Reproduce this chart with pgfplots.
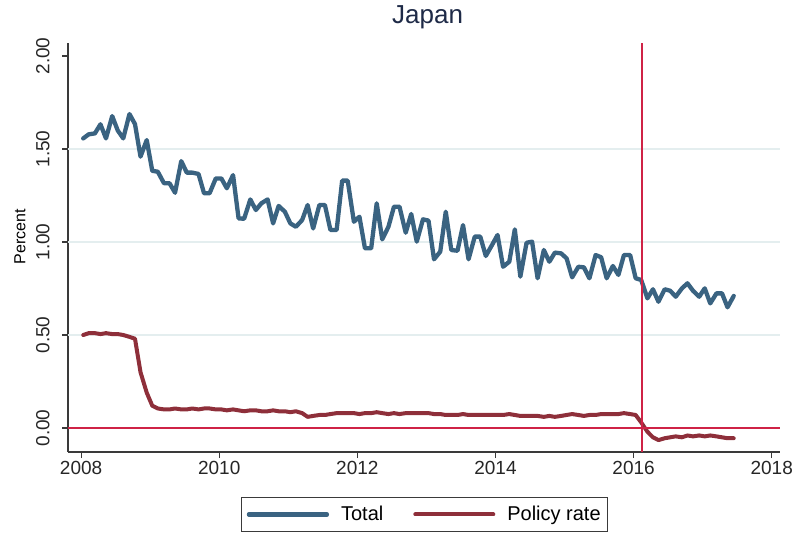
\documentclass[border=0pt]{standalone}
\usepackage{fontspec}
\setmainfont{Liberation Sans}
\usepackage{pgfplots}
\pgfplotsset{compat=1.18}
\usepackage{pgfplotstable}
\definecolor{totcol}{HTML}{3A6381}
\definecolor{polcol}{HTML}{8E2F3A}
\definecolor{refred}{HTML}{CF2346}
\definecolor{gridc}{HTML}{E4EEEF}
\definecolor{axcol}{HTML}{3A3A3A}
\definecolor{titlecol}{HTML}{1E2A47}

\pgfplotstableread{
x tot pol
2008.03 1.557 0.500
2008.11 1.579 0.510
2008.20 1.584 0.510
2008.28 1.633 0.505
2008.36 1.557 0.510
2008.45 1.677 0.505
2008.53 1.600 0.505
2008.61 1.557 0.500
2008.70 1.688 0.490
2008.78 1.634 0.480
2008.86 1.459 0.300
2008.95 1.548 0.190
2009.03 1.383 0.120
2009.11 1.378 0.105
2009.20 1.316 0.100
2009.28 1.316 0.100
2009.36 1.265 0.105
2009.45 1.435 0.100
2009.53 1.373 0.100
2009.61 1.373 0.105
2009.70 1.366 0.100
2009.78 1.262 0.105
2009.86 1.262 0.105
2009.95 1.342 0.100
2010.03 1.342 0.100
2010.11 1.289 0.095
2010.20 1.360 0.100
2010.28 1.127 0.095
2010.36 1.125 0.090
2010.45 1.229 0.095
2010.53 1.172 0.095
2010.61 1.208 0.090
2010.70 1.229 0.090
2010.78 1.100 0.095
2010.86 1.194 0.090
2010.95 1.163 0.090
2011.03 1.100 0.085
2011.11 1.082 0.090
2011.20 1.118 0.080
2011.28 1.199 0.060
2011.36 1.073 0.065
2011.45 1.199 0.070
2011.53 1.199 0.070
2011.61 1.065 0.075
2011.70 1.065 0.080
2011.78 1.330 0.080
2011.86 1.330 0.080
2011.95 1.109 0.080
2012.03 1.136 0.075
2012.11 0.966 0.080
2012.20 0.966 0.080
2012.28 1.208 0.085
2012.36 1.014 0.080
2012.45 1.082 0.075
2012.53 1.190 0.080
2012.61 1.190 0.075
2012.70 1.050 0.080
2012.78 1.151 0.080
2012.86 1.002 0.080
2012.95 1.122 0.080
2013.03 1.115 0.080
2013.11 0.907 0.075
2013.20 0.948 0.075
2013.28 1.163 0.070
2013.36 0.957 0.070
2013.45 0.953 0.070
2013.53 1.091 0.075
2013.61 0.907 0.070
2013.70 1.029 0.070
2013.78 1.029 0.070
2013.86 0.925 0.070
2013.95 0.984 0.070
2014.03 1.038 0.070
2014.11 0.867 0.070
2014.20 0.894 0.075
2014.28 1.068 0.070
2014.36 0.814 0.065
2014.45 0.996 0.065
2014.53 1.002 0.065
2014.61 0.805 0.065
2014.70 0.957 0.060
2014.78 0.894 0.065
2014.86 0.943 0.060
2014.95 0.939 0.065
2015.03 0.912 0.070
2015.11 0.810 0.075
2015.20 0.867 0.070
2015.28 0.864 0.065
2015.36 0.805 0.070
2015.45 0.930 0.070
2015.53 0.918 0.075
2015.61 0.805 0.075
2015.70 0.871 0.075
2015.78 0.823 0.075
2015.86 0.930 0.080
2015.95 0.930 0.075
2016.03 0.805 0.070
2016.11 0.796 0.030
2016.20 0.697 -0.020
2016.28 0.746 -0.050
2016.36 0.679 -0.065
2016.45 0.746 -0.055
2016.53 0.738 -0.050
2016.61 0.706 -0.045
2016.70 0.751 -0.050
2016.78 0.778 -0.040
2016.86 0.738 -0.045
2016.95 0.706 -0.040
2017.03 0.751 -0.045
2017.11 0.670 -0.040
2017.20 0.724 -0.045
2017.28 0.724 -0.050
2017.36 0.649 -0.055
2017.45 0.710 -0.055
}\data

\begin{document}
\begin{tikzpicture}
\begin{axis}[
  scale only axis, width=712pt, height=409pt,
  xmin=2007.81, xmax=2018.12, ymin=-0.129, ymax=2.07,
  axis lines=left, axis line style={-, axcol, line width=1.2pt},
  tick align=outside, major tick length=6pt,
  tick style={axcol, line width=1.2pt},
  xtick={2008,2010,...,2018}, ytick={0,0.5,1,1.5,2},
  /pgf/number format/assume math mode=true,
  x tick label style={/pgf/number format/1000 sep={}, font=\fontsize{19}{22}\selectfont, text=black!85},
  yticklabel={\pgfmathprintnumber[fixed,fixed zerofill,precision=2]{\tick}},
  y tick label style={rotate=90, anchor=south, yshift=9pt, font=\fontsize{19}{22}\selectfont, text=black!85},
  title={Japan},
  title style={at={(0.505,1)}, anchor=south, inner sep=0pt, yshift=8pt, font=\fontsize{26}{30}\selectfont, text=titlecol},
  ylabel={Percent},
  ylabel style={at={(axis description cs:-0.0674,0.526)}, anchor=center, font=\fontsize{16}{19}\selectfont},
  legend style={at={(0.501,-0.11)}, anchor=north, draw=axcol, line width=1pt,
    font=\fontsize{20}{24}\selectfont, inner xsep=5pt, inner ysep=7pt,
    /tikz/every odd column/.append style={column sep=10pt},
    /tikz/every even column/.append style={column sep=28pt}},
  legend columns=2,
  legend image code/.code={\draw[#1] (0pt,0pt) -- (78pt,0pt);},
]
\addplot[gridc, line width=1.5pt, forget plot] coordinates {(2007.81,0.5) (2018.12,0.5)};
\addplot[gridc, line width=1.5pt, forget plot] coordinates {(2007.81,1.0) (2018.12,1.0)};
\addplot[gridc, line width=1.5pt, forget plot] coordinates {(2007.81,1.5) (2018.12,1.5)};
\addplot[totcol, line width=4.3pt, line join=round, line cap=round] table[x=x, y=tot] {\data};
\addlegendentry{Total}
\addplot[polcol, line width=4pt, line join=round, line cap=round] table[x=x, y=pol] {\data};
\addlegendentry{Policy rate}
\addplot[refred, line width=1.5pt, forget plot] coordinates {(2007.81,0) (2018.12,0)};
\addplot[refred, line width=1.5pt, forget plot] coordinates {(2016.12,-0.129) (2016.12,2.07)};
\coordinate (axbl) at (rel axis cs:0,0);
\coordinate (axtr) at (rel axis cs:1,1);
\end{axis}
\pgfresetboundingbox
\path[use as bounding box] ([xshift=-68pt,yshift=-81pt]axbl) rectangle ([xshift=16pt,yshift=43pt]axtr);
\end{tikzpicture}
\end{document}
